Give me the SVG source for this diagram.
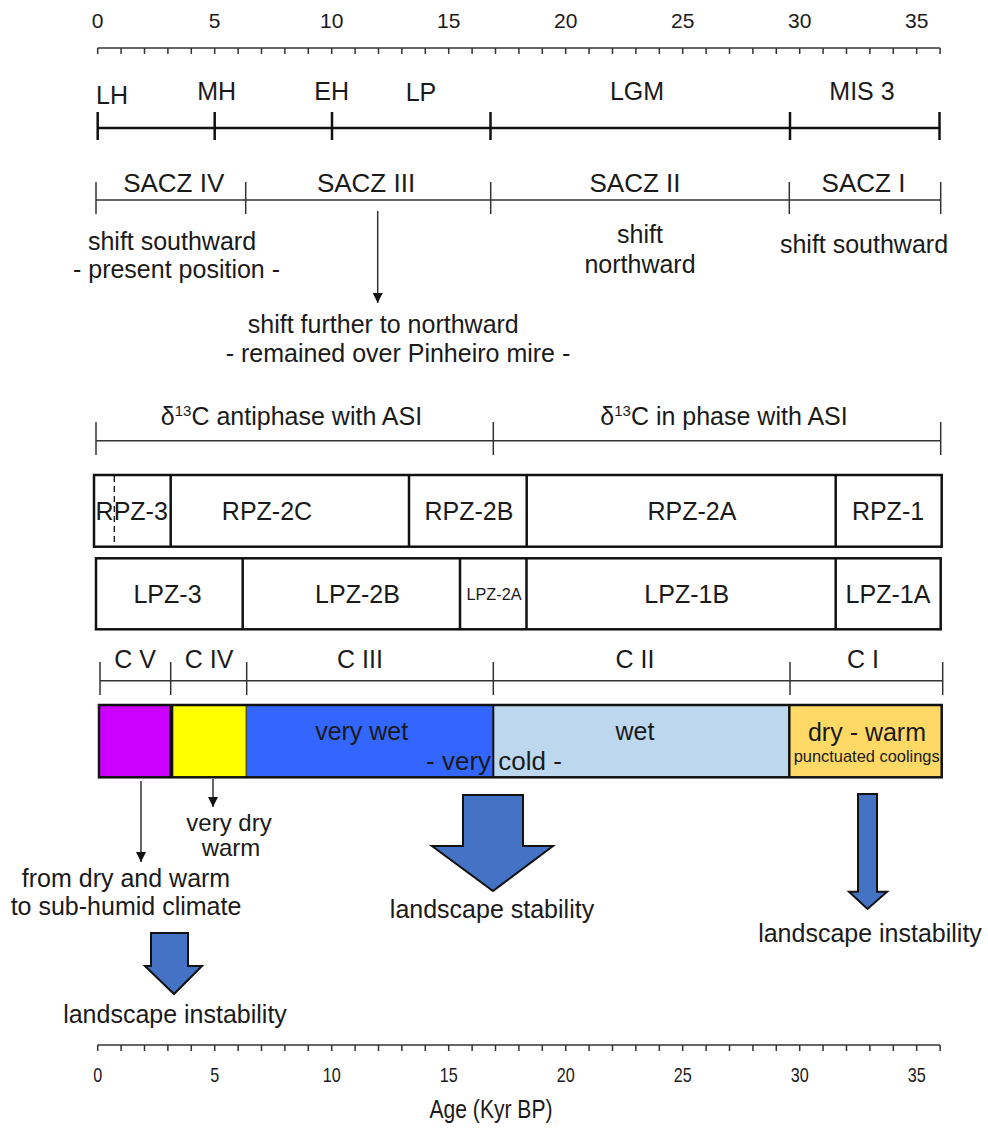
<svg xmlns="http://www.w3.org/2000/svg" width="988" height="1131" viewBox="0 0 988 1131">
<style>
text{font-family:"Liberation Sans",Arial,sans-serif;fill:#1a1a1a;font-size:25px}
.c{text-anchor:middle}
.num{font-size:21px;text-anchor:middle}
.bnum{font-size:21px;text-anchor:middle}
.small{font-size:16px}
.pc{font-size:17px}
.sup{font-size:15px}
.ln{stroke:#333;stroke-width:1.5;fill:none}
.thk{stroke:#111;stroke-width:2.5;fill:none}
.box{stroke:#111;stroke-width:2.5;fill:none}
.blk{fill:#4472C4;stroke:#111;stroke-width:2;stroke-linejoin:miter}
.sac{font-size:26px;text-anchor:middle}
.per{font-size:25px;text-anchor:middle}
.f24{font-size:24px}
.f26{font-size:26px}
.age{font-size:25px}
</style>
<defs>
<marker id="ah" viewBox="0 0 10 10" refX="10" refY="5" markerWidth="10" markerHeight="10" markerUnits="userSpaceOnUse" orient="auto">
<path d="M0,0 L10,5 L0,10 z" fill="#111"/>
</marker>
</defs>

<g id="top-axis">
<line class="ln" x1="97.7" y1="48" x2="940.1" y2="48"/>
<path class="ln" d="M97.7 48v6M121.1 48v6M144.5 48v6M167.9 48v6M191.3 48v6M214.7 48v6M238.1 48v6M261.5 48v6M284.9 48v6M308.3 48v6M331.7 48v6M355.1 48v6M378.5 48v6M401.9 48v6M425.3 48v6M448.7 48v6M472.1 48v6M495.5 48v6M518.9 48v6M542.3 48v6M565.7 48v6M589.1 48v6M612.5 48v6M635.9 48v6M659.3 48v6M682.7 48v6M706.1 48v6M729.5 48v6M752.9 48v6M776.3 48v6M799.7 48v6M823.1 48v6M846.5 48v6M869.9 48v6M893.3 48v6M916.7 48v6M940.1 48v6"/>
<text class="num" x="97.7" y="28">0</text>
<text class="num" x="214.7" y="28">5</text>
<text class="num" x="331.7" y="28">10</text>
<text class="num" x="448.7" y="28">15</text>
<text class="num" x="565.7" y="28">20</text>
<text class="num" x="682.7" y="28">25</text>
<text class="num" x="799.7" y="28">30</text>
<text class="num" x="916.7" y="28">35</text>
</g>

<g id="periods">
<line class="thk" x1="97.7" y1="128" x2="940" y2="128"/>
<path class="thk" d="M97.7 112v28M214.7 112v28M332 112v28M490.5 112v28M790 112v28M939.5 112v28"/>
<text class="per" x="112" y="104">LH</text>
<text class="per" x="216.7" y="100">MH</text>
<text class="per" x="331.7" y="100">EH</text>
<text class="per" x="421" y="101">LP</text>
<text class="per" x="637" y="100">LGM</text>
<text class="per" x="862" y="100">MIS 3</text>
</g>

<g id="sacz">
<line class="ln" x1="96" y1="200" x2="940.7" y2="200"/>
<path class="ln" d="M96 182v32M245.7 182v32M490.7 182v32M789.3 182v32M940.7 182v32"/>
<text class="sac" x="173.7" y="192">SACZ IV</text>
<text class="sac" x="366" y="192">SACZ III</text>
<text class="sac" x="635" y="192">SACZ II</text>
<text class="sac" x="863.5" y="192">SACZ I</text>
<text class="c" x="172" y="250">shift southward</text>
<text class="c" x="176.5" y="278">- present position -</text>
<text class="c" x="640" y="243">shift</text>
<text class="c" x="640" y="273">northward</text>
<text class="c" x="864" y="253">shift southward</text>
<text class="c" x="383.3" y="333">shift further to northward</text>
<text class="c" x="398" y="362">- remained over Pinheiro mire -</text>
</g>

<g id="d13c">
<line class="ln" x1="96" y1="440.7" x2="940.7" y2="440.7"/>
<path class="ln" d="M96 422v33M493.3 422v33M940.7 422v33"/>
<text class="c" x="291.5" y="425">δ<tspan class="sup" dy="-9">13</tspan><tspan dy="9">C  antiphase with ASI</tspan></text>
<text class="c" x="724" y="425">δ<tspan class="sup" dy="-9">13</tspan><tspan dy="9">C in phase with ASI</tspan></text>
</g>

<g id="rpz">
<rect class="box" x="94" y="475" width="847.7" height="71.7"/>
<path class="box" d="M170.7 475v71.7M409 475v71.7M526.7 475v71.7M835.7 475v71.7"/>
<line x1="114.3" y1="476" x2="114.3" y2="546" stroke="#111" stroke-width="1.3" stroke-dasharray="6,4"/>
<text class="c" x="131.7" y="520">RPZ-3</text>
<text class="c" x="267" y="520">RPZ-2C</text>
<text class="c" x="469" y="520">RPZ-2B</text>
<text class="c" x="692" y="520">RPZ-2A</text>
<text class="c" x="888" y="520">RPZ-1</text>
</g>

<g id="lpz">
<rect class="box" x="96" y="558.3" width="844.7" height="71"/>
<path class="box" d="M242.7 558.3v71M460 558.3v71M526.5 558.3v71M835.7 558.3v71"/>
<text class="c" x="167.5" y="603">LPZ-3</text>
<text class="c" x="357.5" y="603">LPZ-2B</text>
<text class="c small" x="494" y="600" textLength="55" lengthAdjust="spacingAndGlyphs">LPZ-2A</text>
<text class="c" x="686.7" y="603">LPZ-1B</text>
<text class="c" x="888" y="603">LPZ-1A</text>
</g>

<g id="climate-phases">
<line class="ln" x1="100" y1="680.7" x2="942.7" y2="680.7"/>
<path class="ln" d="M100 662v33M170.7 662v33M246.7 662v33M493.3 662v33M790 662v33M942.7 662v33"/>
<text class="c" x="135" y="668">C V</text>
<text class="c" x="209" y="668">C IV</text>
<text class="c" x="360" y="668">C III</text>
<text class="c" x="635" y="668">C II</text>
<text class="c" x="863" y="668">C I</text>
</g>

<g id="climate-bar">
<rect x="99" y="705" width="72" height="72.3" fill="#CC00FF"/>
<rect x="171" y="705" width="75.7" height="72.3" fill="#FFFF00"/>
<rect x="246.7" y="705" width="246.6" height="72.3" fill="#3366FF"/>
<rect x="493.3" y="705" width="296" height="72.3" fill="#BDD7EE"/>
<rect x="789.3" y="705" width="152.4" height="72.3" fill="#FFD966"/>
<rect class="box" x="99" y="705" width="842.7" height="72.3"/>
<line x1="171.3" y1="705" x2="171.3" y2="777.3" stroke="#111" stroke-width="4"/>
<line x1="246.2" y1="705" x2="246.2" y2="777.3" stroke="#111" stroke-width="1"/>
<line x1="493.3" y1="705" x2="493.3" y2="777.3" stroke="#111" stroke-width="2"/>
<line x1="789.3" y1="705" x2="789.3" y2="777.3" stroke="#111" stroke-width="2.5"/>
<text class="c" x="361.7" y="740">very wet</text>
<text class="c f26" x="494" y="770">- very cold -</text>
<text class="c" x="635" y="740">wet</text>
<text class="c" x="867" y="741">dry - warm</text>
<text class="c pc" x="866.7" y="762" textLength="146" lengthAdjust="spacingAndGlyphs">punctuated coolings</text>
</g>

<g id="connectors">
<line class="ln" x1="141" y1="781" x2="141" y2="862" stroke="#111" marker-end="url(#ah)"/>
<line class="ln" x1="213" y1="779" x2="213" y2="807" stroke="#111" marker-end="url(#ah)"/>
<line class="ln" x1="377.7" y1="211" x2="377.7" y2="303" stroke="#111" marker-end="url(#ah)"/>
</g>

<g id="cv-notes">
<text class="c f24" x="229" y="831">very dry</text>
<text class="c f24" x="231" y="856">warm</text>
<text class="c" x="126" y="887">from dry and warm</text>
<text class="c" x="126" y="915">to sub-humid climate</text>
</g>

<g id="arrow-left">
<polygon class="blk" points="151,933 188,933 188,966 202,966 174,994 145,966 151,966"/>
<text class="c" x="175" y="1023">landscape instability</text>
</g>

<g id="arrow-mid">
<polygon class="blk" points="463,795 523,795 523,846 553,846 493,891 432,846 463,846"/>
<text class="c" x="492" y="918">landscape stability</text>
</g>

<g id="arrow-right">
<polygon class="blk" points="858,794 877,794 877,891.7 887,891.7 867.5,909 849,891.7 858,891.7"/>
<text class="c" x="870" y="942">landscape instability</text>
</g>

<g id="bottom-axis">
<line class="ln" x1="97.7" y1="1045" x2="940.1" y2="1045"/>
<path class="ln" d="M97.7 1045v6M121.1 1045v6M144.5 1045v6M167.9 1045v6M191.3 1045v6M214.7 1045v6M238.1 1045v6M261.5 1045v6M284.9 1045v6M308.3 1045v6M331.7 1045v6M355.1 1045v6M378.5 1045v6M401.9 1045v6M425.3 1045v6M448.7 1045v6M472.1 1045v6M495.5 1045v6M518.9 1045v6M542.3 1045v6M565.7 1045v6M589.1 1045v6M612.5 1045v6M635.9 1045v6M659.3 1045v6M682.7 1045v6M706.1 1045v6M729.5 1045v6M752.9 1045v6M776.3 1045v6M799.7 1045v6M823.1 1045v6M846.5 1045v6M869.9 1045v6M893.3 1045v6M916.7 1045v6M940.1 1045v6"/>
<text class="bnum" x="97.7" y="1082" textLength="9" lengthAdjust="spacingAndGlyphs">0</text>
<text class="bnum" x="214.7" y="1082" textLength="9" lengthAdjust="spacingAndGlyphs">5</text>
<text class="bnum" x="331.7" y="1082" textLength="18" lengthAdjust="spacingAndGlyphs">10</text>
<text class="bnum" x="448.7" y="1082" textLength="18" lengthAdjust="spacingAndGlyphs">15</text>
<text class="bnum" x="565.7" y="1082" textLength="18" lengthAdjust="spacingAndGlyphs">20</text>
<text class="bnum" x="682.7" y="1082" textLength="18" lengthAdjust="spacingAndGlyphs">25</text>
<text class="bnum" x="799.7" y="1082" textLength="18" lengthAdjust="spacingAndGlyphs">30</text>
<text class="bnum" x="916.7" y="1082" textLength="18" lengthAdjust="spacingAndGlyphs">35</text>
<text class="c age" x="491" y="1118" textLength="123" lengthAdjust="spacingAndGlyphs">Age (Kyr BP)</text>
</g>
</svg>
